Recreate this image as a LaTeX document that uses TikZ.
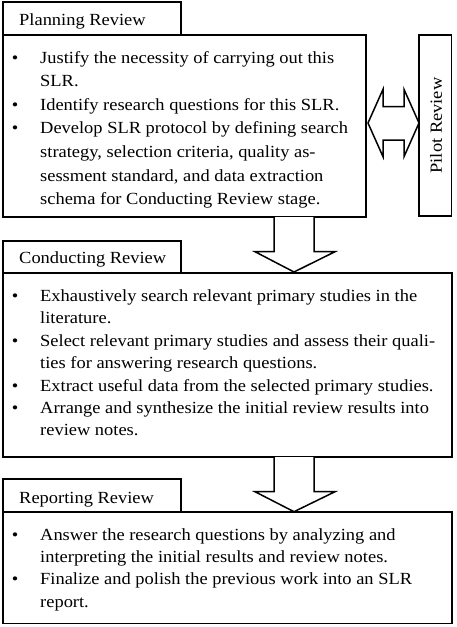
\documentclass[tikz,border=0pt]{standalone}
\usepackage{fontspec}
\setmainfont{Liberation Serif}[FakeStretch=1.085]
\usepackage{array}
\begin{document}
\begin{tikzpicture}[x=1pt,y=-1pt,
  boxline/.style={draw=black,line width=1.5pt,fill=white},
  txt/.style={anchor=base west,inner sep=0pt,font=\fontsize{17}{22.4}\selectfont},
  blockarrow/.style={draw=black,line width=1.5pt,fill=white,line join=miter}]
\newcommand{\bul}{\llap{\makebox[50pt]{\textbullet}}}
\useasboundingbox (0,0) rectangle (456,627);
% Planning
\draw[boxline] (3,35) rectangle (366,217);
\draw[boxline] (3,2) rectangle (181,35);
\node[txt] (plantext) at (19,25) {Planning Review};
\node[txt,font=\fontsize{17}{23.6}\selectfont] (planlist) at (40,63) {\begin{tabular}[t]{@{}l@{}}
\bul Justify the necessity of carrying out this\\
SLR.\\
\bul Identify research questions for this SLR.\\
\bul Develop SLR protocol by defining search\\
strategy, selection criteria, quality as-\\
sessment standard, and data extraction\\
schema for Conducting Review stage.
\end{tabular}};
% Pilot
\draw[boxline] (419,35) rectangle (451.7,216);
\node[inner sep=0pt,rotate=90,font=\fontsize{17}{20}\selectfont] (pilot) at (436,125.5) {Pilot Review};
\draw[blockarrow] (368,123) -- (383,89.3) -- (383,106.7) -- (404,106.7) -- (404,89.3) -- (419,123)
  -- (404,156.7) -- (404,140) -- (383,140) -- (383,156.7) -- cycle;
% Conducting
\draw[boxline] (3,273) rectangle (452,457);
\draw[boxline] (3,241) rectangle (181,273);
\node[txt] (condtext) at (19,263) {Conducting Review};
\node[txt] (condlist) at (40,301.5) {\begin{tabular}[t]{@{}l@{}}
\bul Exhaustively search relevant primary studies in the\\
literature.\\
\bul Select relevant primary studies and assess their quali-\\
ties for answering research questions.\\
\bul Extract useful data from the selected primary studies.\\
\bul Arrange and synthesize the initial review results into\\
review notes.
\end{tabular}};
\draw[blockarrow] (274,217) -- (274,251.7) -- (255,251.7) -- (294,272) -- (335,251.7) -- (314,251.7) -- (314,217);
% Reporting
\draw[boxline] (3,512) rectangle (452,623.5);
\draw[boxline] (3,479) rectangle (181,512);
\node[txt] (reptext) at (19,503) {Reporting Review};
\node[txt] (replist) at (40,540) {\begin{tabular}[t]{@{}l@{}}
\bul Answer the research questions by analyzing and\\
interpreting the initial results and review notes.\\
\bul Finalize and polish the previous work into an SLR\\
report.
\end{tabular}};
\draw[blockarrow] (274,457) -- (274,491.7) -- (255,491.7) -- (294,511.7) -- (335,491.7) -- (314,491.7) -- (314,457);
\end{tikzpicture}
\end{document}
